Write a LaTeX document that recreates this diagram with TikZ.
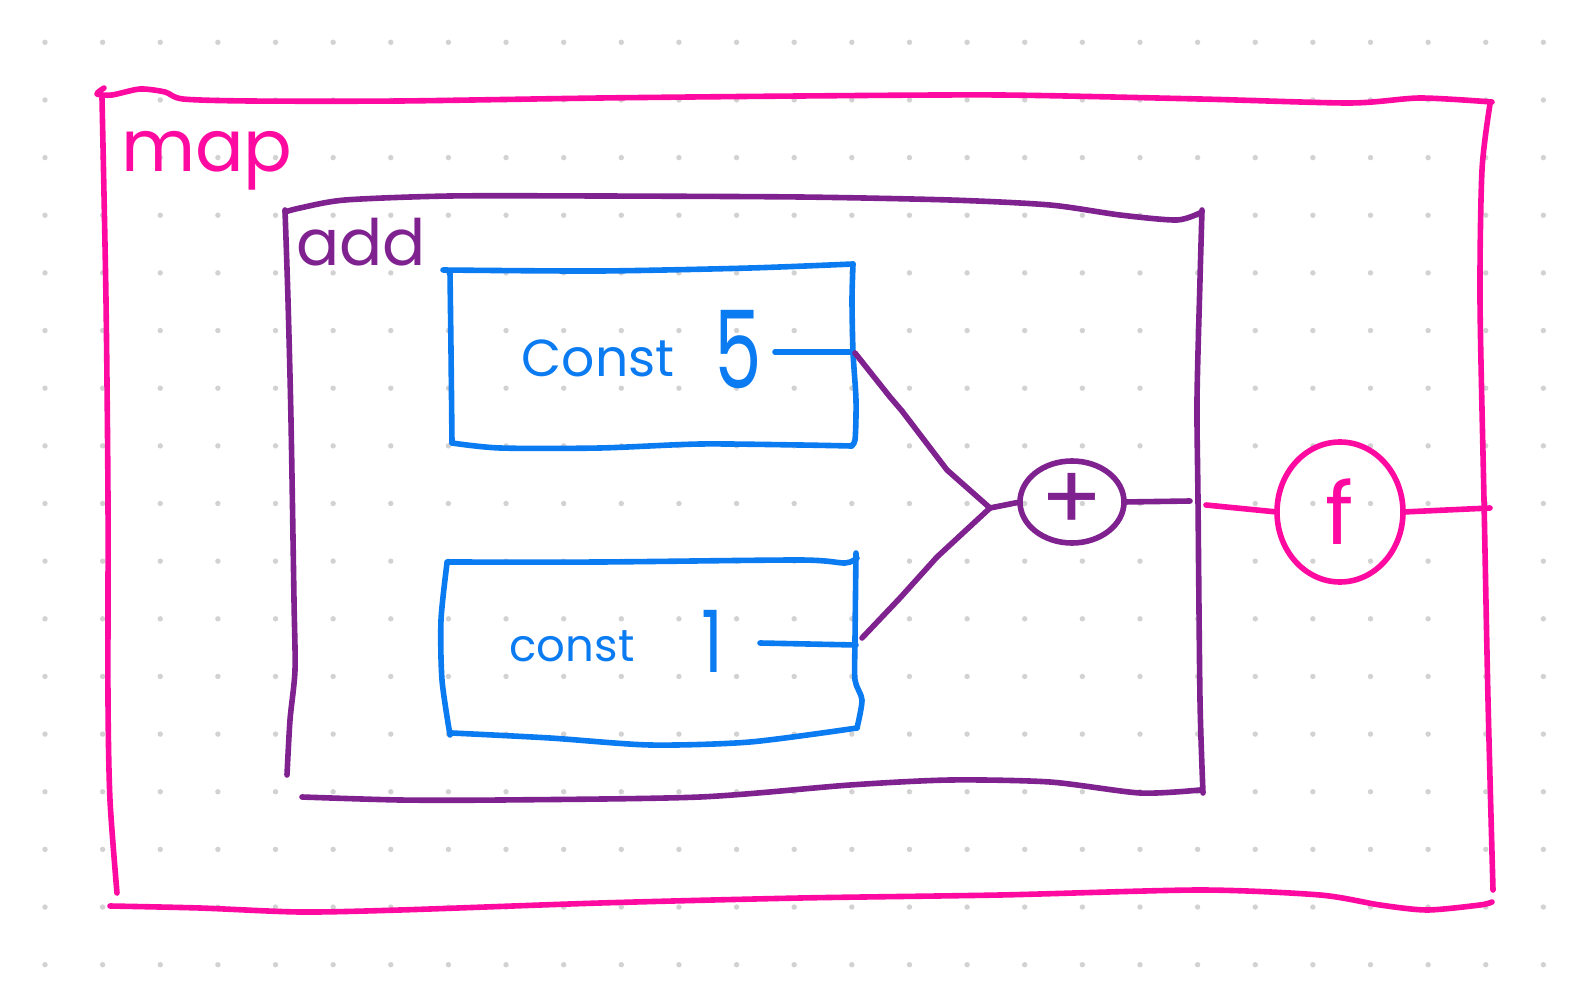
\documentclass[tikz,border=0pt]{standalone}
\usepackage{fontspec}
\setmainfont{Poppins}
\usetikzlibrary{shapes.geometric}
\definecolor{pinkc}{HTML}{FF0AA0}
\definecolor{purpc}{HTML}{7F2290}
\definecolor{bluec}{HTML}{0B7BF2}
\definecolor{dotc}{HTML}{D2D2D2}
\newcommand{\fsz}[1]{\fontsize{#1}{#1}\selectfont}
\begin{document}
\begin{tikzpicture}[x=1pt,y=-1pt,line width=5.6pt,line cap=round,line join=round,
  pinkstroke/.style={draw=pinkc},
  purpstroke/.style={draw=purpc},
  bluestroke/.style={draw=bluec},
  wob/.style={smooth,tension=0.45},
  lbl/.style={inner sep=0pt,outer sep=0pt},
  opnode/.style={draw,ellipse,inner sep=0pt,outer sep=0pt}]
\useasboundingbox (0,0) rectangle (1580,1000);
\fill[white] (0,0) rectangle (1580,1000);
% dot grid
\foreach \i in {0,...,26}{\foreach \j in {0,...,16}{
  \fill[dotc] (45+57.63*\i,42.3+57.65*\j) circle[radius=2.7pt];}}
% outer pink box (map)
\draw[pinkstroke] plot[wob] coordinates {(104,88) (97,94) (112,95) (140,89) (165,92) (183,99) (250,101) (400,101) (600,98) (800,96) (1000,95) (1200,99) (1350,103) (1420,98) (1492,102)};
\draw[pinkstroke] plot[wob] coordinates {(1490,104) (1482,170) (1480,300) (1484,500) (1488,700) (1493,890)};
\draw[pinkstroke] plot[wob] coordinates {(110,906) (200,908) (300,912) (400,910) (600,903) (800,898) (1000,895) (1200,890) (1320,895) (1380,905) (1427,910) (1480,905) (1492,902)};
\draw[pinkstroke] plot[wob] coordinates {(102,98) (106,300) (108,500) (108,700) (110,800) (117,893)};
\node[lbl,text=pinkc,anchor=base west] (maplbl) at (121,172) {\fsz{72}map};
% purple box (add)
\draw[purpstroke] plot[wob] coordinates {(285,212) (300,208) (345,200) (450,196) (600,196) (800,197) (950,200) (1050,205) (1120,215) (1177,220) (1202,212)};
\draw[purpstroke] plot[wob] coordinates {(1202,210) (1200,280) (1197,400) (1198,500) (1200,700) (1203,793)};
\draw[purpstroke] plot[wob] coordinates {(302,797) (400,800) (500,800) (700,797) (850,785) (950,780) (1050,782) (1140,793) (1200,790)};
\draw[purpstroke] plot[wob] coordinates {(285,210) (288,300) (291,420) (294,600) (295,670) (290,720) (287,775)};
\node[lbl,text=purpc,anchor=base west] (addlbl) at (296,266) {\fsz{64}add};
% blue box const 5
\draw[bluestroke] plot[wob] coordinates {(443,270) (600,271) (750,268) (853,264)};
\draw[bluestroke] plot[wob] coordinates {(853,264) (852,300) (853,352) (856,400) (855,440) (850,446)};
\draw[bluestroke] plot[wob] coordinates {(452,443) (500,448) (600,448) (700,444) (800,445) (852,446)};
\draw[bluestroke] plot[wob] coordinates {(450,272) (451,350) (452,443)};
\node[lbl,text=bluec] (c5word) at (598,358) {\fsz{52}Const};
\node[lbl,text=bluec,xscale=0.7] (c5num) at (738,350) {\fsz{108}5};
\coordinate (c5in) at (775,352);
\coordinate (c5end) at (852,352);
\draw[bluestroke] (c5in) -- (c5end);
% blue box const 1
\draw[bluestroke] plot[wob] coordinates {(447,562) (600,562) (800,560) (845,563) (857,558)};
\draw[bluestroke] plot[wob] coordinates {(856,553) (855,640) (855,680) (862,700) (857,728)};
\draw[bluestroke] plot[wob] coordinates {(452,733) (550,738) (650,745) (750,742) (857,728)};
\draw[bluestroke] plot[wob] coordinates {(447,563) (441,620) (442,680) (450,735)};
\node[lbl,text=bluec] (c1word) at (572,646) {\fsz{45}const};
\node[lbl,text=bluec,xscale=0.8] (c1num) at (713,641) {\fsz{86}1};
\coordinate (c1in) at (760,643);
\coordinate (c1end) at (856,645);
\draw[bluestroke] (c1in) -- (c1end);
% plus node and connectors
\node[opnode,purpstroke,text=purpc,minimum width=104pt,minimum height=82pt] (plus) at (1072,502) {\fsz{92}+};
\coordinate (junc) at (990,508);
\coordinate (c5out) at (855,353);
\coordinate (c1out) at (862,638);
\draw[purpstroke] (c5out) -- (890,397) -- (902,411) -- (947,470) -- (junc);
\draw[purpstroke] (c1out) -- (900,598) -- (937,557) -- (junc);
\draw[purpstroke] (junc) -- (plus.west);
\coordinate (addout) at (1190,501);
\draw[purpstroke] (plus.east) -- (addout);
% f node and connectors
\node[opnode,pinkstroke,text=pinkc,minimum width=126pt,minimum height=140pt] (fnode) at (1340,512) {\fsz{86}f};
\coordinate (fin) at (1206,505);
\coordinate (mapout) at (1490,508);
\draw[pinkstroke] (fin) -- (fnode.west);
\draw[pinkstroke] (fnode.east) -- (mapout);
\end{tikzpicture}
\end{document}
